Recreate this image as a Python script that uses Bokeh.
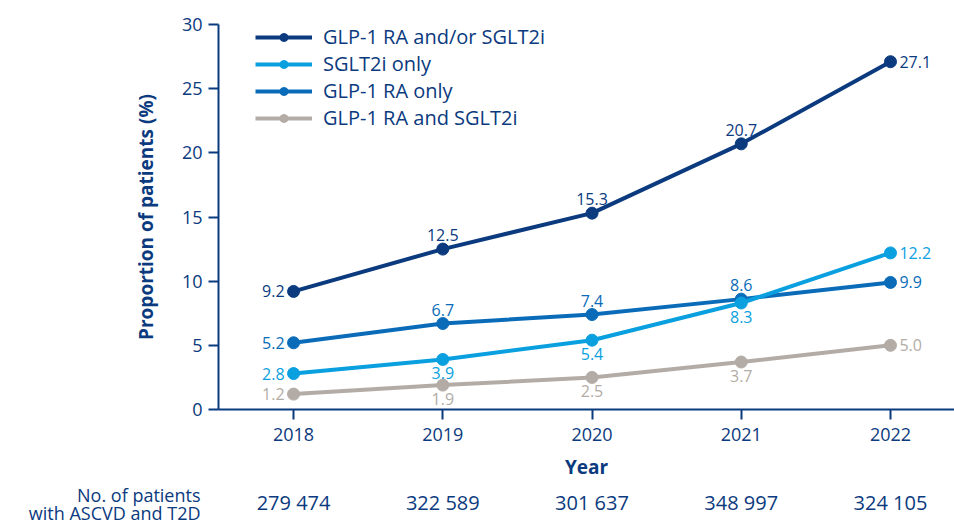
from bokeh.plotting import figure
from bokeh.layouts import column
from bokeh.models import Range1d, ColumnDataSource, LabelSet, FixedTicker
from bokeh.core.properties import value
from bokeh.embed import file_html
from bokeh.resources import INLINE

# ---- data ----
years = [2018, 2019, 2020, 2021, 2022]
either = [9.2, 12.5, 15.3, 20.7, 27.1]
sglt2i_only = [2.8, 3.9, 5.4, 8.3, 12.2]
glp1_only = [5.2, 6.7, 7.4, 8.6, 9.9]
both = [1.2, 1.9, 2.5, 3.7, 5.0]
patients = ["279 474", "322 589", "301 637", "348 997", "324 105"]
series_names = ["GLP-1 RA and/or SGLT2i", "SGLT2i only", "GLP-1 RA only", "GLP-1 RA and SGLT2i"]
y_ticks = [0, 5, 10, 15, 20, 25, 30]
row_title = ["No. of patients", "with ASCVD and T2D"]

# ---- styles ----
NAVY = "#0b3a7e"
LIGHT = "#0aa0e0"
MED = "#0a6cb8"
GRAY = "#b3aca6"
FONT = "Open Sans"

W = 954
LEFT = 218
X0, X1 = 2017.497, 2022.429
H1 = 482

series = [
    (series_names[0], either, NAVY, ["left", "above", "above", "above", "right"]),
    (series_names[1], sglt2i_only, LIGHT, ["left", "below", "below", "below", "right"]),
    (series_names[2], glp1_only, MED, ["left", "above", "above", "above", "right"]),
    (series_names[3], both, GRAY, ["left", "below", "below", "below", "right"]),
]

p = figure(width=W, height=H1, output_backend="svg", toolbar_location=None,
           x_range=Range1d(X0, X1), y_range=Range1d(0, 30),
           min_border_left=LEFT, min_border_right=0, min_border_top=24, min_border_bottom=72)
p.outline_line_color = None
p.xgrid.visible = False
p.ygrid.visible = False

for name, vals, col, _ in reversed(series):
    src = ColumnDataSource(dict(x=years, y=vals))
    p.line("x", "y", source=src, line_color=col, line_width=4, legend_label=name)
    p.scatter("x", "y", source=src, size=12, fill_color=col, line_color=col, legend_label=name)

# data labels
for name, vals, col, pos in series:
    for kind in ["left", "right", "above", "below"]:
        sel = [(x, v) for x, v, k in zip(years, vals, pos) if k == kind]
        if not sel:
            continue
        src = ColumnDataSource(dict(x=[s[0] for s in sel], y=[s[1] for s in sel],
                                    t=[f"{s[1]:.1f}" for s in sel]))
        kw = dict(x="x", y="y", text="t", source=src, text_color=col, text_font=value(FONT),
                  text_font_size="16px", text_baseline="middle")
        if kind == "left":
            kw.update(text_align="right", x_offset=-9)
        elif kind == "right":
            kw.update(text_align="left", x_offset=9)
        elif kind == "above":
            kw.update(text_align="center", y_offset=14)
        else:
            kw.update(text_align="center", y_offset=-14)
        p.add_layout(LabelSet(**kw))

for ax in (p.xaxis[0], p.yaxis[0]):
    ax.axis_line_color = NAVY
    ax.axis_line_width = 2
    ax.major_tick_line_color = NAVY
    ax.major_tick_line_width = 2
    ax.major_tick_out = 10
    ax.major_tick_in = 0
    ax.minor_tick_line_color = None
    ax.major_label_text_color = NAVY
    ax.major_label_text_font = FONT
    ax.major_label_text_font_size = "18px"
    ax.axis_label_text_color = NAVY
    ax.axis_label_text_font = FONT
    ax.axis_label_text_font_style = "bold"
    ax.axis_label_text_font_size = "19px"

p.xaxis.ticker = FixedTicker(ticks=years)
p.xaxis.axis_label = "Year"
p.xaxis.major_label_standoff = 8
p.xaxis.axis_label_standoff = 10
p.yaxis.ticker = FixedTicker(ticks=y_ticks)
p.yaxis.axis_label = "Proportion of patients (%)"
p.yaxis.major_label_standoff = 6
p.yaxis.axis_label_standoff = 20

leg = p.legend[0]
leg.items = list(reversed(leg.items))
leg.location = (37, 278)
leg.margin = 0
leg.padding = 0
leg.spacing = 0
leg.glyph_width = 57
leg.glyph_height = 20
leg.label_height = 20
leg.label_standoff = 11
leg.label_text_font = FONT
leg.label_text_font_size = "20px"
leg.label_text_color = NAVY
leg.border_line_color = None
leg.background_fill_alpha = 0

# ---- bottom table (patient counts) ----
H2 = 524 - H1
ymid = H2 - 20
title_ys = [H2 - 10, H2 - 32]
q = figure(width=W, height=H2, output_backend="svg", toolbar_location=None,
           x_range=p.x_range, y_range=Range1d(0, H2),
           min_border_left=LEFT, min_border_right=0, min_border_top=0, min_border_bottom=0)
q.xaxis.visible = False
q.grid.visible = False
q.outline_line_color = None
qa = q.yaxis[0]
qa.ticker = FixedTicker(ticks=title_ys)
qa.major_label_overrides = {title_ys[0]: row_title[0], title_ys[1]: row_title[1]}
qa.axis_line_color = None
qa.major_tick_line_color = None
qa.minor_tick_line_color = None
qa.major_tick_out = 0
qa.major_tick_in = 0
qa.major_label_standoff = 18
qa.major_label_text_color = NAVY
qa.major_label_text_font = FONT
qa.major_label_text_font_size = "18px"
qa.major_label_text_align = "right"
q.text(x=years, y=[ymid] * len(years), text=patients, text_color=NAVY, text_font=value(FONT),
       text_font_size="20px", text_align="center", text_baseline="middle")

layout = column(p, q, spacing=0)
open("out.html", "w").write(file_html(layout, INLINE))
